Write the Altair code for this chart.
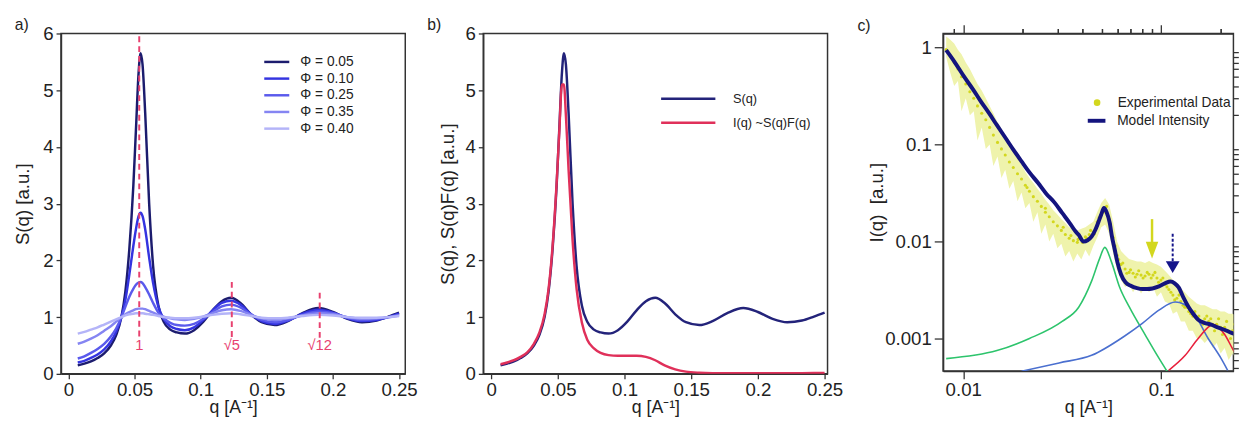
import altair as alt
import pandas as pd

FONT = "Liberation Sans"
INK = "#222222"

# ---------------- Panel a / b data ----------------
q_grid = [0.007, 0.012, 0.017, 0.022, 0.027, 0.032, 0.036, 0.040, 0.043, 0.046,
          0.049, 0.051, 0.053, 0.0545, 0.056, 0.058, 0.061, 0.064, 0.068, 0.072,
          0.077, 0.082, 0.088, 0.095, 0.102, 0.109, 0.116, 0.123, 0.130, 0.138,
          0.146, 0.156, 0.166, 0.177, 0.189, 0.200, 0.211, 0.222, 0.233, 0.242, 0.250]

s_005 = [0.15, 0.18, 0.22, 0.28, 0.36, 0.50, 0.68, 1.0, 1.45, 2.2,
         3.3, 4.3, 5.3, 5.65, 5.45, 4.6, 3.0, 1.9, 1.2, 0.92,
         0.78, 0.73, 0.71, 0.77, 0.92, 1.12, 1.28, 1.34, 1.25, 1.05,
         0.91, 0.86, 0.93, 1.07, 1.16, 1.09, 0.97, 0.91, 0.94, 1.01, 1.08]
s_010 = [0.20, 0.23, 0.28, 0.34, 0.43, 0.57, 0.74, 1.0, 1.3, 1.75,
         2.25, 2.55, 2.78, 2.84, 2.78, 2.55, 2.05, 1.6, 1.18, 0.97,
         0.84, 0.79, 0.77, 0.82, 0.95, 1.12, 1.25, 1.29, 1.22, 1.05,
         0.93, 0.88, 0.94, 1.06, 1.13, 1.08, 0.98, 0.93, 0.95, 1.0, 1.06]
s_025 = [0.27, 0.31, 0.37, 0.44, 0.53, 0.66, 0.80, 1.0, 1.18, 1.36,
         1.5, 1.57, 1.61, 1.62, 1.6, 1.53, 1.4, 1.25, 1.08, 0.98,
         0.9, 0.86, 0.85, 0.88, 0.97, 1.09, 1.19, 1.22, 1.17, 1.05,
         0.95, 0.91, 0.95, 1.04, 1.1, 1.07, 0.99, 0.95, 0.97, 1.0, 1.04]
s_035 = [0.53, 0.57, 0.62, 0.68, 0.76, 0.84, 0.92, 1.0, 1.05, 1.09,
         1.12, 1.14, 1.15, 1.15, 1.15, 1.14, 1.11, 1.08, 1.04, 1.01,
         0.98, 0.96, 0.95, 0.97, 1.01, 1.07, 1.12, 1.14, 1.11, 1.04,
         0.98, 0.95, 0.98, 1.03, 1.07, 1.05, 1.0, 0.97, 0.98, 1.0, 1.03]
s_040 = [0.71, 0.74, 0.78, 0.82, 0.87, 0.92, 0.96, 1.0, 1.03, 1.05,
         1.06, 1.07, 1.07, 1.07, 1.07, 1.06, 1.05, 1.04, 1.02, 1.0,
         0.99, 0.98, 0.98, 0.99, 1.01, 1.04, 1.06, 1.07, 1.05, 1.02,
         0.99, 0.98, 0.99, 1.02, 1.04, 1.03, 1.0, 0.99, 0.99, 1.0, 1.02]
phi_labels = ["Φ = 0.05", "Φ = 0.10", "Φ = 0.25", "Φ = 0.35", "Φ = 0.40"]
phi_colors = ["#1c1c6e", "#3434e0", "#5a5aec", "#8585f2", "#b4b4f8"]

i_q = [0.17, 0.20, 0.24, 0.30, 0.38, 0.53, 0.72, 1.05, 1.5, 2.25,
       3.35, 4.25, 5.1, 5.1, 4.55, 3.6, 2.35, 1.5, 0.9, 0.6,
       0.45, 0.37, 0.33, 0.32, 0.32, 0.32, 0.30, 0.24, 0.15, 0.08,
       0.04, 0.02, 0.012, 0.01, 0.01, 0.01, 0.01, 0.012, 0.012, 0.014, 0.015]
b_labels = ["S(q)", "I(q) ~S(q)F(q)"]
b_colors = ["#23237a", "#e0305a"]

peak_q = [0.0535, 0.1235, 0.19]
peak_top = [5.95, 1.62, 1.43]
peak_bottom = [0.62, 0.62, 0.62]
peak_text = ["1", "√5", "√12"]
peak_text_y = [0.5, 0.5, 0.5]

# ---------------- Panel c data ----------------
model_q = [0.0082, 0.009, 0.0101, 0.0112, 0.01224, 0.0135, 0.0148, 0.0163, 0.0179, 0.0197,
           0.0216, 0.0239, 0.0262, 0.029, 0.0316, 0.0345, 0.0368, 0.0383, 0.0405, 0.0425,
           0.0445, 0.0465, 0.0481, 0.0498, 0.0514, 0.053, 0.0549, 0.0565, 0.0581, 0.06,
           0.0627, 0.066, 0.0702, 0.0755, 0.0806, 0.0849, 0.0974, 0.105, 0.1113, 0.117,
           0.1225, 0.13, 0.1372, 0.145, 0.1538, 0.165, 0.179, 0.193, 0.2085, 0.225, 0.2427, 0.257]
model_i = [0.94, 0.72, 0.5, 0.37, 0.28, 0.21, 0.158, 0.118, 0.0885, 0.067,
           0.0516, 0.04, 0.0313, 0.025, 0.0197, 0.0155, 0.0128, 0.0117, 0.0100, 0.0103,
           0.0112, 0.0132, 0.0157, 0.019, 0.0221, 0.020, 0.0157, 0.011, 0.00847, 0.0062,
           0.00457, 0.0038, 0.00349, 0.0033, 0.00323, 0.00323, 0.00345, 0.00372, 0.00386, 0.0037,
           0.00336, 0.0026, 0.00212, 0.0018, 0.00156, 0.00145, 0.00139, 0.0013, 0.00123, 0.00115, 0.0011, 0.00109]

green_q = [0.0082, 0.0148, 0.0216, 0.0316, 0.0383, 0.0445, 0.0489, 0.0519, 0.056, 0.0616, 0.0691, 0.0837, 0.0955, 0.107]
green_i = [0.00062, 0.00075, 0.001, 0.0015, 0.0021, 0.0039, 0.0067, 0.0087, 0.0062, 0.0034, 0.0021, 0.00106, 0.00067, 0.00046]
blue_q = [0.0197, 0.0305, 0.0445, 0.0654, 0.0806, 0.0974, 0.1179, 0.1425, 0.1727, 0.201, 0.2166]
blue_i = [0.00046, 0.00056, 0.00067, 0.00106, 0.00144, 0.00196, 0.00238, 0.00196, 0.001, 0.00062, 0.00047]
red_q = [0.1092, 0.1323, 0.1538, 0.1829, 0.2085, 0.2296, 0.2526]
red_i = [0.00047, 0.00067, 0.001, 0.00139, 0.00111, 0.00078, 0.00056]

exp_q = [0.0082, 0.0086, 0.0090, 0.0094, 0.0098, 0.0103, 0.0108, 0.0113, 0.0118, 0.0124,
         0.0130, 0.0136, 0.0142, 0.0149, 0.0156, 0.0163, 0.0171, 0.0179, 0.0188, 0.0197,
         0.0206, 0.0216, 0.0226, 0.0237, 0.0248, 0.0260, 0.0272, 0.0285, 0.0299, 0.0313,
         0.0328, 0.0343, 0.0360, 0.0377, 0.0395, 0.0414, 0.0433, 0.0454, 0.0475, 0.0498,
         0.0521, 0.0546, 0.0572, 0.0599, 0.0627, 0.0657, 0.0688, 0.0721, 0.0755, 0.0791,
         0.0829, 0.0868, 0.0909, 0.0952, 0.0997, 0.1044, 0.1094, 0.1146, 0.1200, 0.1257,
         0.1317, 0.1379, 0.1444, 0.1513, 0.1585, 0.1660, 0.1738, 0.1821, 0.1907, 0.1997,
         0.2092, 0.2191, 0.2295, 0.2404, 0.2518]
exp_i = [0.95, 0.82, 0.70, 0.60, 0.50, 0.42, 0.35, 0.30, 0.25, 0.21,
         0.18, 0.15, 0.125, 0.105, 0.090, 0.078, 0.066, 0.058, 0.050, 0.044,
         0.038, 0.033, 0.029, 0.026, 0.023, 0.020, 0.018, 0.016, 0.0145, 0.013,
         0.0118, 0.0108, 0.0102, 0.0098, 0.0105, 0.0112, 0.0118, 0.0125, 0.016, 0.019,
         0.021, 0.017, 0.011, 0.0072, 0.0058, 0.0052, 0.0048, 0.0047, 0.0046, 0.0045,
         0.0044, 0.0046, 0.0045, 0.0042, 0.0040, 0.0036, 0.0032, 0.0028, 0.0026, 0.0024,
         0.0021, 0.0019, 0.0017, 0.0016, 0.0015, 0.0016, 0.0015, 0.0014, 0.0014, 0.0013,
         0.0013, 0.0012, 0.0012, 0.0011, 0.0011]
band_lo = [0.80, 0.55, 0.40, 0.45, 0.22, 0.30, 0.20, 0.22, 0.11, 0.15,
           0.09, 0.10, 0.06, 0.075, 0.045, 0.055, 0.035, 0.042, 0.026, 0.032,
           0.022, 0.025, 0.016, 0.020, 0.012, 0.015, 0.010, 0.012, 0.0085, 0.0095,
           0.0070, 0.0080, 0.0062, 0.0075, 0.0065, 0.0082, 0.0070, 0.0090, 0.0110, 0.0140,
           0.0150, 0.0120, 0.0075, 0.0050, 0.0040, 0.0034, 0.0036, 0.0030, 0.0035, 0.0029,
           0.0034, 0.0030, 0.0034, 0.0027, 0.0030, 0.0024, 0.0023, 0.0018, 0.0019, 0.0015,
           0.0015, 0.0012, 0.0012, 0.0010, 0.0010, 0.0009, 0.0010, 0.0008, 0.0009, 0.0007,
           0.0008, 0.0006, 0.0007, 0.0006, 0.0006]
band_hi = [1.30, 1.20, 1.10, 0.95, 0.85, 0.70, 0.60, 0.50, 0.42, 0.36,
           0.30, 0.25, 0.21, 0.17, 0.145, 0.12, 0.10, 0.085, 0.072, 0.062,
           0.052, 0.045, 0.040, 0.035, 0.031, 0.027, 0.024, 0.021, 0.019, 0.017,
           0.0155, 0.014, 0.0135, 0.013, 0.0135, 0.014, 0.015, 0.016, 0.020, 0.025,
           0.028, 0.024, 0.016, 0.0100, 0.0080, 0.0072, 0.0066, 0.0064, 0.0062, 0.0062,
           0.0060, 0.0063, 0.0060, 0.0058, 0.0055, 0.0050, 0.0045, 0.0040, 0.0036, 0.0033,
           0.0030, 0.0027, 0.0025, 0.0023, 0.0022, 0.0022, 0.0021, 0.0020, 0.0020, 0.0019,
           0.0019, 0.0018, 0.0018, 0.0017, 0.0017]
extra_q = [0.0440, 0.0460, 0.0485, 0.0510, 0.0530, 0.0555, 0.0585, 0.0610, 0.0640, 0.0670,
           0.0700, 0.0740, 0.0770, 0.0810, 0.0850, 0.0890, 0.0930, 0.0970, 0.1020, 0.1070,
           0.1120, 0.1170, 0.1230, 0.1290, 0.1350, 0.1410, 0.1480, 0.1550, 0.1620, 0.1700,
           0.1780, 0.1860, 0.1950, 0.2040, 0.2140, 0.2240, 0.2350, 0.2460, 0.0320, 0.0350,
           0.0260, 0.0210, 0.0380, 0.0400, 0.0420]
extra_i = [0.0130, 0.0120, 0.0175, 0.0200, 0.0230, 0.0150, 0.0090, 0.0065, 0.0060, 0.0047,
           0.0051, 0.0043, 0.0050, 0.0042, 0.0048, 0.0042, 0.0048, 0.0038, 0.0042, 0.0034,
           0.0030, 0.0025, 0.0028, 0.0022, 0.0021, 0.0018, 0.0019, 0.0017, 0.0014, 0.0017,
           0.0016, 0.0012, 0.0016, 0.0011, 0.0015, 0.0010, 0.0014, 0.0010, 0.0140, 0.0115,
           0.022, 0.036, 0.0105, 0.0098, 0.0108]

arrow_q = [0.0899, 0.1143]
arrow_top = [0.017, 0.012]
arrow_shaft_end = [0.0092, 0.0062]
arrow_head = [0.00814, 0.00543]

c_names = ["Model Intensity", "c1", "c2", "c3"]
c_colors = ["#14147e", "#2dc46c", "#4a6fcf", "#e8203c"]
YELLOW = "#d3d71e"
BAND = "#eff3ac"

x_minor_c = [0.009, 0.02, 0.03, 0.04, 0.05, 0.06, 0.07, 0.08, 0.09, 0.2]
y_minor_c = [0.0005, 0.0006, 0.0007, 0.0008, 0.0009,
             0.002, 0.003, 0.004, 0.005, 0.006, 0.007, 0.008, 0.009,
             0.02, 0.03, 0.04, 0.05, 0.06, 0.07, 0.08, 0.09,
             0.2, 0.3, 0.4, 0.5, 0.6, 0.7, 0.8, 0.9]

# ---------------- build tables ----------------
rows = []
for lab, vals in zip(phi_labels, [s_005, s_010, s_025, s_035, s_040]):
    for q, s in zip(q_grid, vals):
        rows.append({"q": q, "S": s, "phi": lab})
df_a = pd.DataFrame(rows)
df_peaks = pd.DataFrame({"q": peak_q, "top": peak_top, "bottom": peak_bottom,
                         "txt": peak_text, "ty": peak_text_y})
rows = []
for lab, vals in zip(b_labels, [s_005, i_q]):
    for q, s in zip(q_grid, vals):
        rows.append({"q": q, "S": s, "name": lab})
df_b = pd.DataFrame(rows)

df_model = pd.DataFrame({"q": model_q, "I": model_i, "cname": "Model Intensity"})
rows = []
for nm, qs, vs in [("c1", green_q, green_i), ("c2", blue_q, blue_i), ("c3", red_q, red_i)]:
    for q, v in zip(qs, vs):
        rows.append({"q": q, "I": v, "cname": nm})
df_comp = pd.DataFrame(rows)
df_band = pd.DataFrame({"q": exp_q, "lo": band_lo, "hi": band_hi})
df_exp = pd.DataFrame({"q": exp_q + extra_q, "I": exp_i + extra_i, "ename": "Experimental Data"})
df_arrow = pd.DataFrame({"q": arrow_q, "top": arrow_top, "end": arrow_shaft_end,
                         "head": arrow_head, "k": ["y", "b"]})

# ---------------- common axes ----------------
lin_x = alt.Scale(domain=[-0.0057, 0.2547], nice=False, zero=False)
lin_y = alt.Scale(domain=[0, 6], nice=False)
xa_axis = alt.Axis(values=[0, 0.05, 0.1, 0.15, 0.2, 0.25], format="~g", tickSize=5,
                   labelPadding=2, titlePadding=-1, titleFontSize=18, grid=False)
ya_axis_a = alt.Axis(values=[0, 1, 2, 3, 4, 5, 6], format="d", tickSize=5, labelPadding=3,
                     titlePadding=11, grid=False)
ya_axis_b = alt.Axis(values=[0, 1, 2, 3, 4, 5, 6], format="d", tickSize=5, labelPadding=3,
                     titlePadding=8, grid=False)
XTITLE = "q [A⁻¹]"


def title(txt, dx=0, offset=-8):
    return alt.TitleParams(txt, anchor="start", frame="bounds", fontSize=16, font=FONT,
                           fontWeight="normal", color=INK, dx=dx, offset=offset)


# ---------------- Panel a ----------------
lines_a = alt.Chart(df_a).mark_line(strokeWidth=2.5, interpolate="monotone", clip=True).encode(
    x=alt.X("q:Q", scale=lin_x, axis=xa_axis, title=XTITLE),
    y=alt.Y("S:Q", scale=lin_y, axis=ya_axis_a, title="S(q) [a.u.]"),
    stroke=alt.Stroke("phi:N", scale=alt.Scale(domain=phi_labels, range=phi_colors),
                      legend=alt.Legend(orient="none", legendX=211, legendY=20, title=None,
                                        symbolType="M-1.7,0H1.7", symbolSize=225,
                                        symbolStrokeWidth=2.5, labelFontSize=14,
                                        labelFont=FONT, labelColor=INK, rowPadding=1,
                                        labelOffset=15, padding=0)),
    detail="phi:N",
)
rules_a = alt.Chart(df_peaks).mark_rule(color="#e8416f", strokeWidth=2, strokeDash=[6, 4]).encode(
    x="q:Q", y="top:Q", y2="bottom:Q")
text_a = alt.Chart(df_peaks).mark_text(color="#e8416f", fontSize=15, font=FONT).encode(
    x="q:Q", y="ty:Q", text="txt:N")
panel_a = alt.layer(lines_a, rules_a, text_a).properties(
    width=351, height=347, title=title("a)", dx=1.4))

# ---------------- Panel b ----------------
lin_xb = alt.Scale(domain=[-0.006, 0.2522], nice=False, zero=False)
lines_b = alt.Chart(df_b).mark_line(strokeWidth=2.5, interpolate="monotone", clip=True).encode(
    x=alt.X("q:Q", scale=lin_xb, axis=xa_axis, title=XTITLE),
    y=alt.Y("S:Q", scale=lin_y, axis=ya_axis_b, title="S(q), S(q)F(q) [a.u.]"),
    stroke=alt.Stroke("name:N", scale=alt.Scale(domain=b_labels, range=b_colors),
                      legend=alt.Legend(orient="none", legendX=198.5, legendY=56, title=None,
                                        symbolType="M-3,0H3", symbolSize=340,
                                        symbolStrokeWidth=2.5, labelFontSize=13,
                                        labelFont=FONT, labelColor=INK, rowPadding=6.6,
                                        labelOffset=35, padding=0)),
)
panel_b = lines_b.properties(width=351, height=347, title=title("b)", dx=-11.5))

# ---------------- Panel c ----------------
xc = alt.Scale(type="log", domain=[0.00791, 0.2317], nice=False)
yc = alt.Scale(type="log", domain=[0.000463, 1.394], nice=False)

band = alt.Chart(df_band).mark_area(color=BAND, clip=True).encode(
    x=alt.X("q:Q", scale=xc, title=XTITLE,
            axis=alt.Axis(values=[0.01, 0.1], format="~g", tickSize=8, labelPadding=2,
                          titlePadding=-1, titleFontSize=18, grid=False)),
    y=alt.Y("lo:Q", scale=yc, title="I(q)\u00a0 [a.u.]",
            axis=alt.Axis(values=[0.001, 0.01, 0.1, 1], format="~g", tickSize=9,
                          labelPadding=3, titlePadding=-2, grid=False)),
    y2="hi:Q",
)
pts = alt.Chart(df_exp).mark_circle(size=10, opacity=1, clip=True).encode(
    x=alt.X("q:Q", scale=xc, title=None,
            axis=alt.Axis(values=x_minor_c, labels=False, tickSize=5, domain=False, grid=False)),
    y=alt.Y("I:Q", scale=yc, title=None,
            axis=alt.Axis(values=y_minor_c, labels=False, tickSize=5, domain=False, grid=False)),
    fill=alt.Fill("ename:N", scale=alt.Scale(domain=["Experimental Data"], range=[YELLOW]),
                  legend=alt.Legend(orient="none", legendX=150, legendY=63.5, title=None,
                                    symbolType="circle", symbolSize=45, labelFontSize=14,
                                    labelFont=FONT, labelColor=INK, labelOffset=14,
                                    padding=0)),
)
c_legend = alt.Legend(orient="none", legendX=145.5, legendY=78, title=None,
                      values=["Model Intensity"], symbolType="M-1,0H1", symbolSize=324,
                      symbolStrokeWidth=4, labelFontSize=14, labelFont=FONT,
                      labelColor=INK, labelOffset=10, padding=0)
c_scale = alt.Scale(domain=c_names, range=c_colors)
comps = alt.Chart(df_comp).mark_line(strokeWidth=1.6, interpolate="monotone", clip=True).encode(
    x=alt.X("q:Q", scale=xc, title=None,
            axis=alt.Axis(orient="top", values=[0.01, 0.1], labels=False, tickSize=9, grid=False)),
    y=alt.Y("I:Q", scale=yc, axis=None),
    stroke=alt.Stroke("cname:N", scale=c_scale, legend=c_legend),
    detail="cname:N",
)
model = alt.Chart(df_model).mark_line(strokeWidth=4, interpolate="monotone", clip=True).encode(
    x=alt.X("q:Q", scale=xc, title=None,
            axis=alt.Axis(orient="top", values=x_minor_c, labels=False, tickSize=5,
                          domain=False, grid=False)),
    y=alt.Y("I:Q", scale=yc, axis=None),
    stroke=alt.Stroke("cname:N", scale=c_scale, legend=c_legend),
)
arr_y = alt.Chart(df_arrow[df_arrow.k == "y"])
shaft_y = arr_y.mark_rule(color=YELLOW, strokeWidth=2.5).encode(
    x=alt.X("q:Q", scale=xc, axis=None), y=alt.Y("top:Q", scale=yc, axis=None), y2="end:Q")
head_y = arr_y.mark_point(shape="M-0.75,-1L0.75,-1L0,1Z", filled=True, size=289,
                          color=YELLOW, opacity=1).encode(
    x=alt.X("q:Q", scale=xc, axis=None), y=alt.Y("head:Q", scale=yc, axis=None))
arr_b = alt.Chart(df_arrow[df_arrow.k == "b"])
shaft_b = arr_b.mark_rule(color="#14148a", strokeWidth=2, strokeDash=[3, 2]).encode(
    x=alt.X("q:Q", scale=xc, axis=None), y=alt.Y("top:Q", scale=yc, axis=None), y2="end:Q")
head_b = arr_b.mark_point(shape="M-1,-0.85L1,-0.85L0,0.85Z", filled=True, size=196,
                          color="#14148a", opacity=1).encode(
    x=alt.X("q:Q", scale=xc, axis=None), y=alt.Y("head:Q", scale=yc, axis=None))

panel_c = alt.layer(band, pts, comps, model, shaft_y, head_y, shaft_b, head_b).resolve_axis(
    x="independent", y="independent").properties(
    width=296, height=344, title=title("c)", dx=-10.7, offset=-10))

inner = alt.hconcat(panel_a, panel_b, spacing=8.5).resolve_scale(
    stroke="independent", fill="independent").resolve_legend(
    stroke="independent", fill="independent")
chart = alt.hconcat(inner, panel_c, spacing=13.3).resolve_scale(
    stroke="independent", fill="independent").resolve_legend(
    stroke="independent", fill="independent").properties(
    padding={"left": 4, "top": 4, "right": 0, "bottom": -4}
).configure(font=FONT).configure_view(stroke="#333333", strokeWidth=1.5).configure_axis(
    labelFont=FONT, titleFont=FONT, labelFontSize=19, titleFontSize=19,
    labelColor=INK, titleColor=INK, titleFontWeight="normal",
    domainColor="#333333", tickColor="#333333", domainWidth=1.5, tickWidth=1.3,
    labelFlush=False,
)

chart.save("out.html", embed_options={"renderer": "svg", "actions": False})
